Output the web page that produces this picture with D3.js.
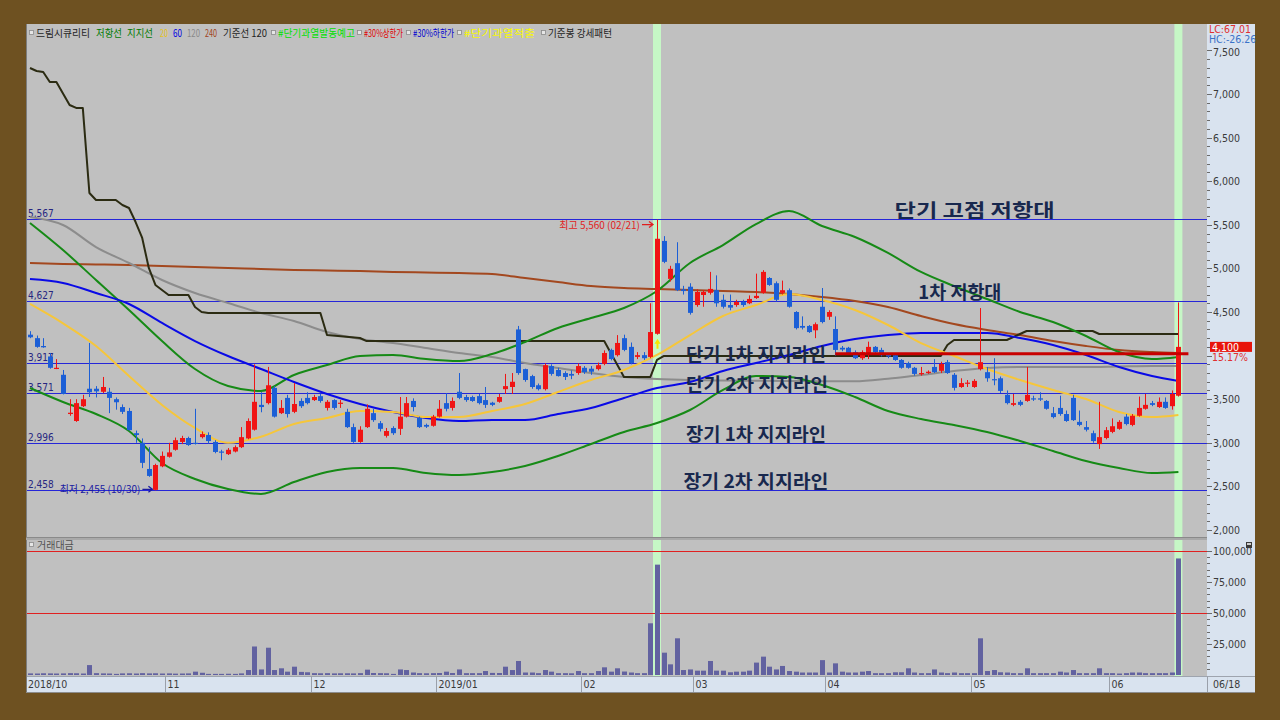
<!DOCTYPE html>
<html><head><meta charset="utf-8">
<script src="https://cdn.jsdelivr.net/npm/d3@7"></script>
<style>
html,body{margin:0;padding:0;background:#6e5121;}
svg{display:block}
</style></head><body>
<svg id="c" width="1280" height="720"></svg>
<script>
// ---------------- DATA ----------------
const opens = [
4240,4200,4110,3990,3850,3780,3330,3250,3420,3620,
3620,3585,3585,3500,3410,3365,3110,3000,2700,2460,
2730,2840,2920,3010,3055,3000,3065,3090,3010,2900,
2870,2900,2950,3050,3150,3435,3455,3630,3340,3515,
3355,3480,3515,3490,3535,3400,3490,3450,3355,3180,
3010,3180,3340,3225,3080,3170,3160,3300,3480,3285,
3205,3195,3300,3455,3400,3585,3525,3525,3535,3490,
3460,3470,3615,3640,4300,3845,3765,3660,3615,3880,
3835,3800,3790,3800,3860,3850,3845,3905,4065,4005,
4200,4100,3985,4005,3985,4250,5315,4880,5060,4760,
4790,4580,4695,4720,4750,4640,4580,4580,4615,4600,
4660,4720,4890,4830,4720,4750,4500,4340,4340,4290,
4560,4445,4305,4090,4090,4040,3970,4030,4100,4065,
4010,4005,3950,3915,3860,3790,3800,3870,3825,3925,
3780,3640,3680,3640,3845,3810,3730,3740,3550,3435,
3470,3480,3510,3510,3480,3340,3400,3330,3515,3240,
3180,3110,2985,3055,3125,3160,3300,3205,3310,3390,
3455,3410,3470,3420,3540];
const highs = [
4280,4230,4200,4030,3960,3835,3500,3500,3550,4145,
3650,3755,3630,3520,3440,3400,3140,3050,2950,2760,
2900,3000,3060,3080,3070,3390,3130,3120,3030,2920,
2940,2970,3180,3280,3900,3580,3870,3650,3490,3550,
3685,3510,3580,3550,3560,3490,3500,3490,3390,3220,
3190,3440,3390,3250,3170,3190,3525,3525,3510,3300,
3220,3320,3490,3570,3520,3800,3550,3540,3560,3640,
3470,3560,3790,3800,4340,3850,3780,3680,3910,3900,
3860,3820,3830,3910,3880,3880,3920,4060,4080,4235,
4240,4150,4040,4040,4600,5560,5370,5030,5300,4800,
4830,4760,4750,4960,4920,4700,4700,4640,4640,4690,
4940,4980,4900,4850,4860,4770,4510,4450,4350,4380,
4775,4520,4450,4110,4100,4060,4060,4160,4110,4090,
4020,4020,3960,3930,3870,3870,3830,3960,3930,3950,
3800,3740,3720,3730,4545,3870,3970,3760,3600,3560,
3490,3870,3540,3580,3490,3410,3540,3370,3550,3370,
3250,3140,3470,3180,3280,3260,3330,3330,3530,3560,
3480,3520,3520,3600,4610];
const lows = [
4200,4090,4090,3850,3845,3555,3310,3240,3410,3525,
3520,3570,3340,3380,3330,3140,3000,2710,2610,2455,
2720,2830,2910,2985,2965,2980,3050,2990,2880,2800,
2860,2890,2940,3040,3140,3350,3440,3290,3330,3290,
3340,3400,3440,3480,3460,3370,3380,3400,3170,3000,
3000,3170,3240,3130,3060,3090,3090,3290,3360,3170,
3170,3185,3290,3360,3370,3500,3470,3470,3440,3400,
3420,3460,3560,3560,3780,3700,3620,3600,3600,3770,
3760,3720,3730,3780,3790,3780,3830,3890,3945,3990,
4050,3900,3960,3950,3970,4240,5060,4850,4740,4700,
4470,4560,4560,4700,4560,4540,4520,4560,4560,4590,
4650,4710,4800,4620,4700,4550,4300,4300,4260,4200,
4370,4410,4000,4050,4020,3960,3950,3960,4030,3990,
3970,3940,3850,3850,3770,3770,3790,3800,3800,3790,
3600,3630,3640,3630,3830,3700,3660,3570,3440,3420,
3420,3470,3480,3480,3380,3280,3310,3240,3250,3190,
3130,3000,2930,3040,3110,3150,3200,3190,3300,3380,
3420,3400,3390,3380,3530];
const closes = [
4210,4100,4095,3860,3860,3560,3345,3455,3500,3580,
3590,3640,3515,3465,3355,3145,3090,2770,2620,2745,
2850,2890,3030,3055,2975,2990,3100,3020,2895,2890,
2920,2950,3065,3250,3470,3410,3660,3300,3400,3330,
3445,3420,3455,3525,3480,3470,3400,3460,3180,3010,
3150,3390,3260,3160,3135,3110,3300,3455,3410,3180,
3185,3300,3390,3390,3480,3515,3490,3480,3455,3435,
3435,3525,3650,3700,3800,3720,3640,3615,3890,3790,
3765,3755,3770,3880,3810,3815,3890,4030,3960,4145,
4065,3915,4005,3970,4270,5340,5075,4995,4750,4740,
4490,4730,4730,4765,4600,4560,4550,4615,4580,4650,
4685,4960,4810,4640,4750,4560,4315,4320,4270,4360,
4385,4500,4065,4070,4030,3970,4040,4100,4040,4005,
3990,3950,3860,3860,3790,3800,3815,3810,3905,3800,
3630,3685,3690,3710,3925,3740,3720,3595,3455,3455,
3435,3550,3500,3495,3390,3295,3330,3250,3260,3205,
3150,3020,3065,3145,3190,3240,3215,3310,3400,3435,
3435,3470,3400,3560,4100];
const volumes = [
1300,1200,1400,1300,1200,1300,1500,1400,1200,8000,
1500,1300,1200,900,1300,1400,1200,1500,1300,1400,
1200,1300,1100,1200,1300,2700,1800,900,900,900,
1000,900,1300,4000,23000,4500,22000,4000,5400,2700,
6700,2500,2200,1500,1400,1500,1300,1400,1400,1300,
1500,4300,1600,1500,1400,900,4500,4000,2000,1500,
1400,1500,1600,2700,1600,4500,1500,1500,1500,3200,
1700,1600,6700,4000,11300,2000,2000,1500,4000,2700,
1500,1500,1400,3200,1500,1500,3200,6200,2700,5400,
2800,2000,1500,1500,41700,89000,18000,8600,29600,4000,
4500,3500,3500,11300,3500,3500,2200,2700,2700,3500,
10000,14800,6700,4500,7300,3200,2700,2000,2000,2000,
12000,2000,9400,2700,2000,2000,2700,3200,1500,1500,
1500,2200,2200,5400,2000,1500,1500,4500,2000,1500,
2000,1500,1500,1500,29600,3200,4000,2200,2000,1500,
1500,5400,1500,1500,1500,1500,2700,2000,4000,1500,
1500,1500,5400,1500,1500,1200,1500,2000,2000,1500,
1500,1500,1500,2000,94000];

const monthIdx = [0,21,43,62,84,101,121,143,164];
const monthLabels = ["2018/10","11","12","2019/01","02","03","04","05","06"];
const lastDateLabel = "06/18";

// overlay lines at every 5th session
const lineIdx = [0,5,10,15,20,25,30,35,40,45,50,55,60,65,70,75,80,85,90,95,100,105,110,115,120,125,130,135,140,145,150,155,160,165,170,174];
const ma20 = [4592,4370,4110,3766,3434,3170,3000,3070,3216,3284,3365,3353,3296,3296,3365,3445,3583,3720,3835,4007,4236,4454,4580,4706,4638,4523,4351,4144,3995,3846,3720,3606,3502,3353,3296,3319];
const ma60 = [4878,4833,4718,4592,4374,4167,3995,3846,3697,3560,3445,3353,3284,3250,3262,3262,3330,3399,3514,3628,3697,3823,3915,4007,4110,4190,4236,4259,4259,4259,4202,4122,4007,3869,3766,3709];
const ma120 = [5590,5498,5245,5062,4867,4718,4603,4489,4397,4270,4190,4144,4087,4030,3984,3915,3858,3800,3755,3732,3720,3715,3712,3709,3706,3705,3735,3778,3823,3858,3869,3869,3869,3875,3880,3880];
const ma240 = [5062,5050,5045,5039,5028,5016,5005,4993,4982,4976,4970,4959,4953,4947,4936,4890,4844,4798,4775,4764,4752,4741,4729,4706,4672,4626,4557,4454,4362,4294,4236,4167,4110,4064,4041,4030];
const resistLine = [5521,5211,4867,4523,4167,3846,3651,3594,3778,3892,3995,4007,3961,3938,4018,4156,4317,4431,4546,4741,5062,5268,5509,5658,5486,5360,5177,4959,4798,4649,4500,4385,4225,4041,3961,3984];
const supportLine = [3628,3468,3330,3135,2768,2585,2470,2413,2550,2665,2711,2711,2654,2631,2665,2734,2849,2986,3124,3227,3376,3606,3766,3755,3663,3525,3365,3273,3204,3124,3021,2906,2791,2711,2654,2665];
// 기준선 120 (step line), breakpoints
const baseIdx = [0,1,2,3,4,6,7,8,9,10,13,14,15,16,17,18,19,21,24,25,26,27,44,45,50,51,87,88,89,90,94,95,96,138,139,140,148,150,151,161,162,174];
const baseVal = [7298,7264,7252,7138,7138,6874,6840,6840,5865,5784,5784,5727,5693,5532,5349,5005,4810,4695,4695,4557,4500,4489,4489,4236,4202,4167,4167,4030,3892,3755,3755,3950,3995,3995,4122,4179,4179,4248,4282,4282,4248,4248];

const hLevels = [5567,4627,3917,3571,2996,2458];
const supportLevel = 4020, supportFromIdx = 122;
const highlightIdx = [95,174];
const priceTicks = d3.range(2000, 7501, 500);
const volTicks = [25000,50000,75000,100000];
const volRefLines = [50000,100000];
const annoTexts = ["단기 고점 저항대","1차 저항대","단기 1차 지지라인","단기 2차 지지라인","장기 1차 지지라인","장기 2차 지지라인"];
const annoLevels = [5567,4627,3917,3571,2996,2458];
const annoIdx = [131,134.6,99.4,99.4,99.4,99];
const annoWidths = [160,83,140,142,140,145];
const hiIdx = 95, hiVal = 5560, hiText = "최고 5,560 (02/21)";
const loIdx = 19, loVal = 2455, loText = "최저 2,455 (10/30)";
const lastChange = "15.17%";
const legendItems = [
  {t:"드림시큐리티",c:"#1e1e1e",x:36,w:54,box:true},
  {t:"저항선",c:"#007a00",x:96,w:26},
  {t:"지지선",c:"#007a00",x:127,w:26},
  {t:"20",c:"#e8c21a",x:160,w:8},
  {t:"60",c:"#0000e0",x:173,w:9},
  {t:"120",c:"#8a8a8a",x:187,w:13},
  {t:"240",c:"#a0421c",x:205,w:12},
  {t:"기준선 120",c:"#1e1e1e",x:223,w:44},
  {t:"#단기과열발동예고",c:"#00e000",x:278,w:77,box:true},
  {t:"#30%상한가",c:"#e00000",x:364,w:39,box:true},
  {t:"#30%하한가",c:"#0000d0",x:413,w:41,box:true},
  {t:"#단기과열적출",c:"#f8f800",x:464,w:71,box:true},
  {t:"기준봉 강세패턴",c:"#1e1e1e",x:548,w:64,box:true}
];

// ---------------- LAYOUT ----------------
const svg = d3.select("#c");
const L = 26, R = 1207, AX = 1255, T = 24, MB = 537, VT = 540, VB = 676, BB = 692;
const N = closes.length;
const x = d3.scaleLinear().domain([0, N-1]).range([30, 30 + (N-1)*6.6]);
const y = d3.scaleLinear().domain([2000, 7500]).range([530, 530 - 5500*0.0872]);
const yv = d3.scaleLinear().domain([0, 100000]).range([675, 551]);
const numFont = '"Liberation Sans Narrow","DejaVu Sans Condensed","Arial Narrow",sans-serif';
const krFont = '"Noto Sans CJK KR","Noto Sans",sans-serif';
const fmt = d3.format(",");

// backgrounds
svg.append("rect").attr("x",0).attr("y",0).attr("width",1280).attr("height",720).attr("fill","#6e5121");
svg.append("rect").attr("x",L).attr("y",T).attr("width",AX-L).attr("height",BB-T).attr("fill","#c0c0c0");
svg.append("rect").attr("x",R).attr("y",T).attr("width",AX-R).attr("height",VB-T).attr("fill","#d9e3ef");
svg.append("rect").attr("x",L).attr("y",VB).attr("width",AX-L).attr("height",BB-VB).attr("fill","#d9e3ef");
svg.append("line").attr("x1",L).attr("x2",AX).attr("y1",VB+0.5).attr("y2",VB+0.5).attr("stroke","#9ea4ae");
svg.append("line").attr("x1",L).attr("x2",AX).attr("y1",BB+0.5).attr("y2",BB+0.5).attr("stroke","#8c8c8c");
svg.append("line").attr("x1",L+0.5).attr("x2",L+0.5).attr("y1",T).attr("y2",BB).attr("stroke","#7c7c7c");

// clip paths
const defs = svg.append("defs");
defs.append("clipPath").attr("id","cm").append("rect").attr("x",L+1).attr("y",T).attr("width",R-L-1).attr("height",MB-T);
defs.append("clipPath").attr("id","cv").append("rect").attr("x",L+1).attr("y",VT).attr("width",R-L-1).attr("height",VB-VT);

// highlight bands (both panels)
svg.append("g").selectAll("rect").data(highlightIdx).join("rect")
  .attr("x",d=>x(d)-4).attr("width",8).attr("y",T).attr("height",VB-T).attr("fill","#c6f7c6");

// panel divider
svg.append("rect").attr("x",L).attr("y",MB).attr("width",R-L).attr("height",VT-MB).attr("fill","#a9a9a9");
svg.append("line").attr("x1",L).attr("x2",R).attr("y1",MB+0.5).attr("y2",MB+0.5).attr("stroke","#8a8a8a");

const gm = svg.append("g").attr("clip-path","url(#cm)");

// horizontal blue levels
gm.selectAll("line.h").data(hLevels).join("line")
  .attr("x1",L).attr("x2",R).attr("y1",d=>Math.round(y(d))+0.5).attr("y2",d=>Math.round(y(d))+0.5)
  .attr("stroke","#2626d8").attr("stroke-width",1);
gm.selectAll("text.h").data(hLevels).join("text")
  .attr("x",L+2).attr("y",d=>Math.round(y(d))-2)
  .attr("font-family",numFont).attr("font-size",10).attr("fill","#262680")
  .text(d=>fmt(d));

// overlay lines
const mk = vals => lineIdx.map((i,k)=>[i, vals[k]]);
const lineGen = d3.line().x(d=>x(d[0])).y(d=>y(d[1])).curve(d3.curveMonotoneX);
const stepGen = d3.line().x(d=>x(d[0])).y(d=>y(d[1]));
const addLine = (pts, color, w, gen) => gm.append("path").attr("d",(gen||lineGen)(pts))
  .attr("fill","none").attr("stroke",color).attr("stroke-width",w).attr("stroke-linejoin","round");
addLine(mk(ma240), "#a3481f", 2);
addLine(mk(ma120), "#8c8c8c", 2);
addLine(baseIdx.map((i,k)=>[i, baseVal[k]]), "#2b2b12", 2, stepGen);
addLine(mk(resistLine), "#168a16", 2);
addLine(mk(supportLine), "#168a16", 2);
addLine(mk(ma60), "#0a0ae6", 2);
addLine(mk(ma20), "#f6c63a", 2);

// candles
const days = d3.range(N);
const up = i => closes[i] >= opens[i];
const col = i => up(i) ? "#f01414" : "#1c5fd6";
const gc = gm.append("g");
gc.selectAll("line.w").data(days).join("line")
  .attr("x1",i=>Math.round(x(i))+0.5).attr("x2",i=>Math.round(x(i))+0.5)
  .attr("y1",i=>y(highs[i])).attr("y2",i=>y(lows[i]))
  .attr("stroke",col).attr("stroke-width",1);
gc.selectAll("rect.b").data(days).join("rect")
  .attr("x",i=>Math.round(x(i))-2).attr("width",5)
  .attr("y",i=>y(Math.max(opens[i],closes[i])))
  .attr("height",i=>Math.max(1.2, Math.abs(y(opens[i])-y(closes[i]))))
  .attr("fill",col);

// yellow marker under the 02/21 candle
const mx = Math.round(x(hiIdx))+0.5, my = y(lows[hiIdx]) + 8;
gm.append("path").attr("d",`M${mx-3},${my+1}L${mx},${my-4}L${mx+3},${my+1}Z M${mx-1},${my+1}h2v5h-2Z`).attr("fill","#f7e600");

// red support level line
gm.append("line").attr("x1",x(supportFromIdx)).attr("x2",x(N-1)+10)
  .attr("y1",y(supportLevel)).attr("y2",y(supportLevel)).attr("stroke","#c80000").attr("stroke-width",3);

// high / low annotations
const hx = x(hiIdx), hy = y(hiVal)+5;
gm.append("text").attr("x",hx-17).attr("y",hy+4).attr("text-anchor","end")
  .attr("font-family",krFont).attr("font-size",10).attr("fill","#e01e1e").text(hiText);
gm.append("path").attr("d",`M${hx-15},${hy}H${hx-4} M${hx-8},${hy-3}L${hx-4},${hy}L${hx-8},${hy+3}`)
  .attr("stroke","#e01e1e").attr("fill","none").attr("stroke-width",1.3);
const lx = x(loIdx), ly = y(loVal)-1;
gm.append("text").attr("x",lx-15).attr("y",ly+4).attr("text-anchor","end")
  .attr("font-family",krFont).attr("font-size",10).attr("fill","#1a1aa0").text(loText);
gm.append("path").attr("d",`M${lx-13},${ly}H${lx-3} M${lx-7},${ly-3}L${lx-3},${ly}L${lx-7},${ly+3}`)
  .attr("stroke","#1a1aa0").attr("fill","none").attr("stroke-width",1.3);

// big annotations
annoTexts.forEach((t,k)=>{
  svg.append("text").attr("x",x(annoIdx[k])).attr("y",Math.round(y(annoLevels[k]))-2)
    .attr("font-family",krFont).attr("font-weight",700).attr("font-size",18)
    .attr("fill","#18284e").attr("textLength",annoWidths[k]).attr("lengthAdjust","spacingAndGlyphs")
    .text(t);
});

// legend
const lg = svg.append("g").attr("font-family",krFont).attr("font-size",10);
legendItems.forEach(it=>{
  if (it.box) lg.append("rect").attr("x",it.x-6.5).attr("y",30.5).attr("width",4).attr("height",4)
    .attr("fill","#e6e6e6").attr("stroke","#8a8a8a").attr("stroke-width",0.8);
  lg.append("text").attr("x",it.x).attr("y",37).attr("fill",it.c)
    .attr("textLength",it.w).attr("lengthAdjust","spacingAndGlyphs").text(it.t);
});

// right price axis
const cy = y(closes[N-1]);
const ra = svg.append("g").attr("font-family",numFont).attr("font-size",10.5).attr("fill","#3a3a3a");
d3.range(2000, 7501, 100).forEach(v=>{
  const yy = Math.round(y(v))+0.5;
  ra.append("line").attr("x1",R).attr("x2",R+(v%500===0?5:3)).attr("y1",yy).attr("y2",yy).attr("stroke","#6a6a6a");
});
ra.selectAll("text.p").data(priceTicks.filter(d=>Math.abs(y(d)-cy)>16)).join("text")
  .attr("x",R+6).attr("y",d=>y(d)+(d===7500?6:4)).text(d=>fmt(d));
svg.append("text").attr("x",R+2).attr("y",33).attr("font-family",numFont).attr("font-size",10.5).attr("fill","#e03030").text("LC:67.01");
svg.append("text").attr("x",R+2).attr("y",43).attr("font-family",numFont).attr("font-size",10.5).attr("fill","#3a72c8").text("HC:-26.26");
// current price tag
svg.append("rect").attr("x",R+3).attr("y",cy-5).attr("width",42).attr("height",10).attr("fill","#e8140a");
svg.append("text").attr("x",R+5).attr("y",cy+4).attr("font-family",numFont).attr("font-size",10.5).attr("fill","#ffffff").text(fmt(closes[N-1]));
svg.append("text").attr("x",R+5).attr("y",cy+14).attr("font-family",numFont).attr("font-size",10.5).attr("fill","#e03030").text(lastChange);

// volume panel
const gv = svg.append("g").attr("clip-path","url(#cv)");
gv.selectAll("line.r").data(volRefLines).join("line")
  .attr("x1",L).attr("x2",R).attr("y1",d=>Math.round(yv(d))+0.5).attr("y2",d=>Math.round(yv(d))+0.5)
  .attr("stroke","#e02020").attr("stroke-width",1);
gv.selectAll("rect.v").data(days).join("rect")
  .attr("x",i=>Math.round(x(i))-2).attr("width",5)
  .attr("y",i=>yv(volumes[i])).attr("height",i=>yv(0)-yv(volumes[i]))
  .attr("fill","#6262a0");
svg.append("rect").attr("x",L+3.5).attr("y",542.5).attr("width",4).attr("height",4)
  .attr("fill","#e6e6e6").attr("stroke","#8a8a8a").attr("stroke-width",0.8);
svg.append("text").attr("x",L+11).attr("y",549).attr("font-family",krFont).attr("font-size",10).attr("fill","#505050").text("거래대금");
const va = svg.append("g").attr("font-family",numFont).attr("font-size",10.5).attr("fill","#3a3a3a");
d3.range(5000, 100001, 5000).forEach(v=>{
  const yy = Math.round(yv(v))+0.5;
  va.append("line").attr("x1",R).attr("x2",R+(v%25000===0?5:3)).attr("y1",yy).attr("y2",yy).attr("stroke","#6a6a6a");
});
va.selectAll("text.v").data(volTicks).join("text").attr("x",R+6).attr("y",d=>yv(d)+4).text(d=>fmt(d));
svg.append("rect").attr("x",AX-9).attr("y",542).attr("width",6).attr("height",6).attr("fill","#3a3a3a");
svg.append("rect").attr("x",AX-8).attr("y",543).attr("width",4).attr("height",2).attr("fill","#cfcfcf");

// bottom date axis
const ba = svg.append("g").attr("font-family",numFont).attr("font-size",10.5).attr("fill","#3a3a3a");
monthIdx.forEach((idx,k)=>{
  const sx = k===0 ? L : Math.round(x(idx)-3.3)+0.5;
  if (k>0) ba.append("line").attr("x1",sx).attr("x2",sx).attr("y1",VB).attr("y2",BB).attr("stroke","#9aa0aa");
  ba.append("text").attr("x",sx+2).attr("y",VB+12).text(monthLabels[k]);
});
ba.append("line").attr("x1",R+0.5).attr("x2",R+0.5).attr("y1",VB).attr("y2",BB).attr("stroke","#9aa0aa");
ba.append("text").attr("x",R+6).attr("y",VB+12).text(lastDateLabel);
</script>
</body></html>
